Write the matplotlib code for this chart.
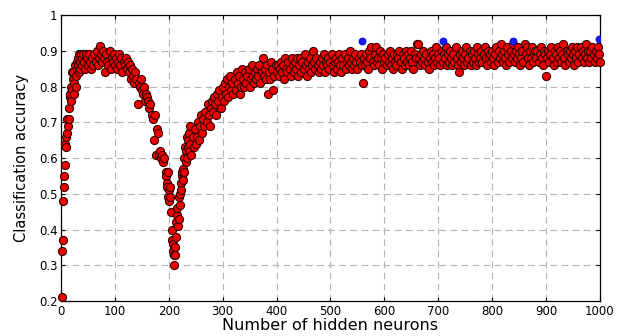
import numpy as np
import matplotlib
matplotlib.use('Agg')
import matplotlib.pyplot as plt

# neurons 1..40 (every count)
acc_a = [0.21, 0.34, 0.37, 0.48, 0.52, 0.55, 0.58, 0.64, 0.63, 0.66,
         0.67, 0.71, 0.69, 0.74, 0.71, 0.77, 0.78, 0.76, 0.80, 0.84,
         0.79, 0.82, 0.84, 0.78, 0.81, 0.86, 0.83, 0.80, 0.87, 0.85,
         0.88, 0.86, 0.84, 0.89, 0.87, 0.85, 0.89, 0.88, 0.86, 0.89]
# neurons 42..194, step 2
acc_b = [0.87, 0.85, 0.89, 0.88, 0.86, 0.89, 0.87, 0.85, 0.88, 0.86,
         0.89, 0.87, 0.90, 0.86, 0.88, 0.915, 0.89, 0.87, 0.90, 0.88,
         0.84, 0.89, 0.87, 0.86, 0.90, 0.85, 0.88, 0.87, 0.89, 0.86,
         0.88, 0.85, 0.87, 0.89, 0.86, 0.88, 0.84, 0.87, 0.86, 0.88,
         0.85, 0.87, 0.84, 0.86, 0.82, 0.85, 0.83, 0.81, 0.84, 0.82,
         0.75, 0.81, 0.80, 0.82, 0.79, 0.78, 0.80, 0.76, 0.78, 0.77,
         0.76, 0.74, 0.75, 0.72, 0.71, 0.65, 0.72, 0.61, 0.68, 0.67,
         0.61, 0.62, 0.60, 0.61, 0.59, 0.60, 0.56]
# neurons 195..240 (every count, the dip)
acc_c = [0.55, 0.53, 0.52, 0.56, 0.49, 0.51, 0.48, 0.52, 0.49, 0.45,
         0.40, 0.37, 0.34, 0.36, 0.30, 0.33, 0.35, 0.33, 0.38, 0.42,
         0.44, 0.46, 0.41, 0.43, 0.49, 0.50, 0.47, 0.53, 0.51, 0.55,
         0.56, 0.54, 0.57, 0.60, 0.56, 0.63, 0.59, 0.62, 0.66, 0.60,
         0.63, 0.65, 0.62, 0.67, 0.64, 0.69]
# neurons 242..1000, step 2
acc_d = [0.61, 0.66, 0.63, 0.68, 0.64, 0.66, 0.70, 0.65, 0.69, 0.72,
         0.67, 0.71, 0.69, 0.73, 0.70, 0.75, 0.72, 0.69, 0.74, 0.76,
         0.73, 0.77, 0.75, 0.72, 0.78, 0.76, 0.79, 0.74, 0.77, 0.80,
         0.76, 0.81, 0.78, 0.82, 0.77, 0.80, 0.83, 0.79, 0.81, 0.78,
         0.82, 0.79, 0.84, 0.81, 0.83, 0.78, 0.80, 0.85, 0.82, 0.80,
         0.84, 0.81, 0.83, 0.85, 0.80, 0.82, 0.86, 0.83, 0.81, 0.84,
         0.82, 0.85, 0.83, 0.86, 0.81, 0.84, 0.88, 0.83, 0.85, 0.82,
         0.86, 0.78, 0.84, 0.82, 0.87, 0.85, 0.79, 0.83, 0.86, 0.84,
         0.86, 0.83, 0.85, 0.87, 0.84, 0.86, 0.82, 0.88, 0.85, 0.84,
         0.87, 0.85, 0.83, 0.88, 0.86, 0.84, 0.87, 0.85, 0.88, 0.83,
         0.86, 0.88, 0.84, 0.87, 0.85, 0.89, 0.86, 0.83, 0.87, 0.85,
         0.88, 0.84, 0.86, 0.90, 0.87, 0.85, 0.88, 0.86, 0.84, 0.87,
         0.85, 0.88, 0.86, 0.89, 0.84, 0.87, 0.86, 0.88, 0.85, 0.87,
         0.89, 0.86, 0.84, 0.87, 0.88, 0.85, 0.87, 0.89, 0.86, 0.84,
         0.88, 0.86, 0.89, 0.85, 0.87, 0.88, 0.86, 0.90, 0.87, 0.85,
         0.88, 0.86, 0.89, 0.87, 0.85, 0.88, 0.87, 0.89, 0.86, 0.81,
         0.88, 0.86, 0.89, 0.87, 0.85, 0.90, 0.88, 0.91, 0.87, 0.86,
         0.89, 0.91, 0.87, 0.88, 0.86, 0.90, 0.88, 0.85, 0.89, 0.87,
         0.88, 0.86, 0.89, 0.87, 0.90, 0.86, 0.88, 0.85, 0.89, 0.87,
         0.86, 0.89, 0.88, 0.90, 0.87, 0.85, 0.89, 0.88, 0.86, 0.90,
         0.87, 0.89, 0.86, 0.88, 0.90, 0.87, 0.85, 0.89, 0.88, 0.92,
         0.92, 0.88, 0.86, 0.89, 0.87, 0.90, 0.88, 0.86, 0.89, 0.87,
         0.85, 0.88, 0.90, 0.87, 0.89, 0.86, 0.88, 0.91, 0.87, 0.89,
         0.88, 0.86, 0.90, 0.87, 0.89, 0.88, 0.91, 0.86, 0.89, 0.87,
         0.90, 0.88, 0.86, 0.89, 0.87, 0.91, 0.88, 0.86, 0.84, 0.89,
         0.87, 0.90, 0.88, 0.86, 0.89, 0.91, 0.87, 0.88, 0.90, 0.86,
         0.89, 0.87, 0.90, 0.88, 0.86, 0.91, 0.89, 0.87, 0.88, 0.90,
         0.87, 0.89, 0.91, 0.88, 0.86, 0.90, 0.88, 0.89, 0.87, 0.90,
         0.88, 0.86, 0.89, 0.91, 0.87, 0.90, 0.88, 0.92, 0.89, 0.87,
         0.90, 0.88, 0.86, 0.91, 0.89, 0.87, 0.90, 0.88, 0.92, 0.89,
         0.87, 0.90, 0.88, 0.91, 0.89, 0.86, 0.88, 0.90, 0.87, 0.92,
         0.89, 0.91, 0.88, 0.86, 0.90, 0.88, 0.91, 0.87, 0.89, 0.90,
         0.88, 0.90, 0.87, 0.89, 0.91, 0.88, 0.86, 0.90, 0.89, 0.83,
         0.88, 0.90, 0.87, 0.89, 0.91, 0.88, 0.86, 0.90, 0.89, 0.87,
         0.91, 0.88, 0.90, 0.87, 0.89, 0.92, 0.88, 0.86, 0.90, 0.89,
         0.87, 0.90, 0.88, 0.91, 0.89, 0.86, 0.90, 0.88, 0.91, 0.87,
         0.89, 0.91, 0.88, 0.90, 0.87, 0.89, 0.92, 0.88, 0.90, 0.87,
         0.90, 0.88, 0.91, 0.89, 0.87, 0.90, 0.88, 0.91, 0.89, 0.87]

neurons = np.concatenate([np.arange(1, 41), np.arange(42, 195, 2),
                          np.arange(195, 241), np.arange(242, 1001, 2)])
accuracy = np.array(acc_a + acc_b + acc_c + acc_d)

# best results, drawn in blue
best_neurons = [558, 709, 839, 998]
best_accuracy = [0.927, 0.927, 0.927, 0.932]

x_ticks = list(range(0, 1001, 100))
y_ticks = [0.2, 0.3, 0.4, 0.5, 0.6, 0.7, 0.8, 0.9, 1.0]
y_labels = ['0.2', '0.3', '0.4', '0.5', '0.6', '0.7', '0.8', '0.9', '1']

fig = plt.figure(figsize=(6.17, 3.36), dpi=100)
ax = fig.add_axes([0.0989, 0.104, 0.8735, 0.851])

ax.scatter(neurons, accuracy, s=34, facecolor='#ee0000', edgecolor='#330000',
           linewidth=0.8, zorder=3, clip_on=False)
ax.scatter(best_neurons, best_accuracy, s=26, facecolor='#1a1aff',
           edgecolor='#0000b0', linewidth=0.5, zorder=4)

ax.set_xlim(0, 1000)
ax.set_ylim(0.2, 1.0)
ax.set_xticks(x_ticks)
ax.set_yticks(y_ticks)
ax.set_yticklabels(y_labels)
ax.grid(True, color='#b4b4b4', linestyle=(0, (6, 4)), linewidth=0.8, zorder=0)
ax.set_axisbelow(True)
ax.tick_params(direction='in', length=3, width=0.8, top=True, right=True,
               labelsize=8.5, pad=2.5)
for sp in ax.spines.values():
    sp.set_linewidth(0.9)

ax.set_xlabel('Number of hidden neurons', fontsize=11.5, labelpad=0)
ax.set_ylabel('Classification accuracy', fontsize=10.5, labelpad=7)

fig.savefig('out.png', dpi=100)
